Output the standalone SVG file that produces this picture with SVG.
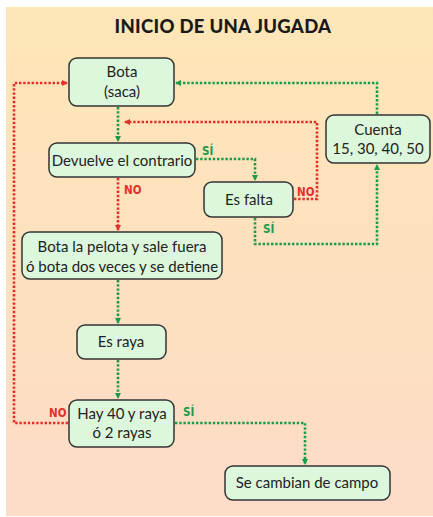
<svg xmlns="http://www.w3.org/2000/svg" width="433" height="517" viewBox="0 0 433 517">
<defs>
<linearGradient id="bg" x1="0" y1="0" x2="0" y2="1">
<stop offset="0" stop-color="#fde6b6"/>
<stop offset="1" stop-color="#fddcc8"/>
</linearGradient>
<marker id="ag" viewBox="0 0 6 6" refX="5" refY="3" markerWidth="6" markerHeight="6" markerUnits="userSpaceOnUse" orient="auto"><path d="M0,0 L6,3 L0,6 Z" fill="#1c9a4c"/></marker>
<marker id="ar" viewBox="0 0 6 6" refX="5" refY="3" markerWidth="6" markerHeight="6" markerUnits="userSpaceOnUse" orient="auto"><path d="M0,0 L6,3 L0,6 Z" fill="#e2302a"/></marker>
</defs>
<style>
.node rect{fill:#dcf7dc;stroke:#333;stroke-width:1.5}
.node text{font-family:Lato,"Open Sans",sans-serif;font-size:15px;fill:#222;text-anchor:middle}
.g{fill:none;stroke:#1c9a4c;stroke-width:2.6;stroke-dasharray:2.4 1.8}
.r{fill:none;stroke:#e2302a;stroke-width:2.6;stroke-dasharray:2.4 1.8}
.lbl{font-family:"DejaVu Sans Condensed","DejaVu Sans",sans-serif;font-stretch:condensed;font-weight:bold;font-size:11.5px}
.lg{fill:#1c9a4c}
.lr{fill:#e2302a}
</style>
<rect x="6" y="7" width="427" height="509" fill="url(#bg)"/>
<text x="223" y="33" text-anchor="middle" font-family="Lato,'Open Sans',sans-serif" font-weight="900" font-size="18.5" letter-spacing="0.3" fill="#1a1a1a">INICIO DE UNA JUGADA</text>
<g id="connectors">
<path class="g" d="M118,107 V141" marker-end="url(#ag)"/>
<path class="g" d="M377,114 V83 H176" marker-end="url(#ag)"/>
<path class="r" d="M294,199 H317 V122 H125" marker-end="url(#ar)"/>
<path class="g" d="M196,159 H255 V180" marker-end="url(#ag)"/>
<path class="r" d="M118,178 V230" marker-end="url(#ar)"/>
<path class="g" d="M255,218 V244 H377 V165" marker-end="url(#ag)"/>
<path class="g" d="M118,280 V323" marker-end="url(#ag)"/>
<path class="g" d="M118,360 V398" marker-end="url(#ag)"/>
<path class="r" d="M68,423 H14 V83 H67" marker-end="url(#ar)"/>
<path class="g" d="M175,423 H305 V464" marker-end="url(#ag)"/>
<text class="lbl lg" x="202" y="155">SÍ</text>
<text class="lbl lr" x="124" y="194">NO</text>
<text class="lbl lr" x="297" y="196">NO</text>
<text class="lbl lg" x="263" y="233">SÍ</text>
<text class="lbl lr" x="49" y="417">NO</text>
<text class="lbl lg" x="183" y="416">SÍ</text>
</g>
<g id="bota" class="node"><rect x="69" y="58" width="105" height="48" rx="8"/><text x="122" y="77">Bota</text><text x="122" y="97">(saca)</text></g>
<g id="devuelve" class="node"><rect x="49" y="143" width="146" height="34" rx="8"/><text x="122" y="166">Devuelve el contrario</text></g>
<g id="esfalta" class="node"><rect x="204" y="182" width="89" height="35" rx="8"/><text x="249" y="205">Es falta</text></g>
<g id="cuenta" class="node"><rect x="326" y="115" width="104" height="48" rx="8"/><text x="378" y="135">Cuenta</text><text x="378" y="154">15, 30, 40, 50</text></g>
<g id="botapelota" class="node"><rect x="22" y="232" width="200" height="47" rx="8"/><text x="122" y="252">Bota la pelota y sale fuera</text><text x="122" y="272">ó bota dos veces y se detiene</text></g>
<g id="esraya" class="node"><rect x="77" y="325" width="89" height="34" rx="8"/><text x="121" y="347">Es raya</text></g>
<g id="hay40" class="node"><rect x="69" y="400" width="105" height="47" rx="8"/><text x="122" y="419">Hay 40 y raya</text><text x="122" y="438">ó 2 rayas</text></g>
<g id="secambian" class="node"><rect x="225" y="466" width="165" height="34" rx="8"/><text x="307" y="488">Se cambian de campo</text></g>
</svg>
